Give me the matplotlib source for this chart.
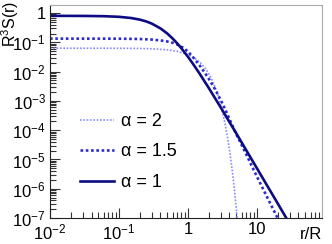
import matplotlib
matplotlib.use("Agg")
import matplotlib.pyplot as plt
from matplotlib.ticker import LogLocator, FixedLocator, NullFormatter

plt.rcParams['font.family'] = ['Liberation Sans', 'DejaVu Sans']
plt.rcParams['mathtext.fontset'] = 'custom'
plt.rcParams['mathtext.rm'] = 'Liberation Sans'
plt.rcParams['mathtext.it'] = 'Liberation Sans:italic'

# alpha = 1 (solid)
r_a1 = [0.01, 0.03, 0.06, 0.1, 0.15, 0.2, 0.25, 0.3, 0.4, 0.5, 0.6, 0.7, 0.8, 1.0,
        1.2, 1.5, 2.0, 3.0, 5.0, 10.0, 20.0, 30.0]
s_a1 = [0.81, 0.805, 0.788, 0.75, 0.682, 0.602, 0.519, 0.438, 0.301, 0.203, 0.136,
        0.0925, 0.064, 0.0324, 0.0177, 0.0081, 0.0028, 5.9e-4, 7.95e-5, 5.0e-6,
        3.16e-7, 6.2e-8]

# alpha = 1.5 (dark dotted)
r_a15 = [0.01, 0.1, 0.2, 0.3, 0.4, 0.5, 0.6, 0.7, 0.85, 1.0, 1.25, 1.5, 1.75, 2.0,
         2.5, 3.0, 3.5, 4.0, 5.0, 7.0, 10.0, 15.0, 20.0, 22.0]
s_a15 = [0.135, 0.134, 0.131, 0.125, 0.117, 0.108, 0.097, 0.085, 0.066, 0.049,
         0.027, 0.0155, 0.0093, 0.0058, 0.0024, 0.00105, 4.9e-4, 2.4e-4, 7.5e-5,
         1.5e-5, 2.6e-6, 3.8e-7, 9.8e-8, 6.5e-8]

# alpha = 2 (light dotted)
r_a2 = [0.01, 0.1, 0.2, 0.3, 0.5, 0.7, 1.0, 1.25, 1.5, 1.75, 2.0, 2.25, 2.5, 2.75,
        3.0, 3.25, 3.5, 3.75, 4.0, 4.25, 4.5, 4.75, 5.0, 5.25]
s_a2 = [0.0635, 0.0632, 0.0622, 0.0607, 0.056, 0.0497, 0.0385, 0.0291, 0.0206,
        0.01374, 0.00859, 0.00505, 0.00279, 0.00145, 7.05e-4, 3.23e-4, 1.39e-4,
        5.6e-5, 2.13e-5, 7.6e-6, 2.54e-6, 8.0e-7, 2.37e-7, 6.6e-8]

x_ticks = [0.01, 0.1, 1, 10]
x_labels = ['$10^{-2}$', '$10^{-1}$', '1', '10']
y_ticks = [1e-7, 1e-6, 1e-5, 1e-4, 1e-3, 1e-2, 1e-1, 1]
y_labels = ['$10^{-7}$', '$10^{-6}$', '$10^{-5}$', '$10^{-4}$', '$10^{-3}$',
            '$10^{-2}$', '$10^{-1}$', '1']

fig = plt.figure(figsize=(3.32, 2.44), dpi=100)
ax = fig.add_axes([0.1506, 0.1066, 0.8194, 0.8729])

ax.plot(r_a2, s_a2, color='#8a8aff', lw=1.2, linestyle=(0, (1, 1)),
        label='\u03b1 = 2')
ax.plot(r_a15, s_a15, color='#2a2ad0', lw=1.9, linestyle=(0, (1, 1)),
        label='\u03b1 = 1.5')
ax.plot(r_a1, s_a1, color='#0c0c82', lw=1.9, linestyle='-',
        label='\u03b1 = 1')

ax.set_xscale('log')
ax.set_yscale('log')
ax.set_xlim(0.01, 88)
ax.set_ylim(1e-7, 1.9)

ax.xaxis.set_major_locator(FixedLocator(x_ticks))
ax.set_xticklabels(x_labels)
ax.yaxis.set_major_locator(FixedLocator(y_ticks))
ax.set_yticklabels(y_labels)
ax.xaxis.set_minor_locator(LogLocator(base=10, subs=range(2, 10), numticks=20))
ax.yaxis.set_minor_locator(LogLocator(base=10, subs=range(2, 10), numticks=20))
ax.xaxis.set_minor_formatter(NullFormatter())
ax.yaxis.set_minor_formatter(NullFormatter())

ax.tick_params(which='both', direction='in', top=False, right=False,
               labelsize=12, color='#333333')
ax.tick_params(which='major', length=7, width=0.8)
ax.tick_params(which='minor', length=4, width=0.8)
ax.tick_params(axis='x', pad=3)
ax.tick_params(axis='y', pad=3)

for s in ['top', 'right']:
    ax.spines[s].set_color('#aaaaaa')
for s in ['left', 'bottom']:
    ax.spines[s].set_color('#222222')

fig.text(0.03, 0.995, 'R$^3$S(r)', rotation=90, ha='center', va='top',
         fontsize=11.5)
fig.text(0.97, 0.01, 'r/R', ha='right', va='bottom', fontsize=12)

ax.legend(loc='upper left', bbox_to_anchor=(0.05, 0.57), frameon=False,
          fontsize=13, handlelength=1.9, handletextpad=0.4, labelspacing=0.75)

fig.savefig('out.png', dpi=100)
